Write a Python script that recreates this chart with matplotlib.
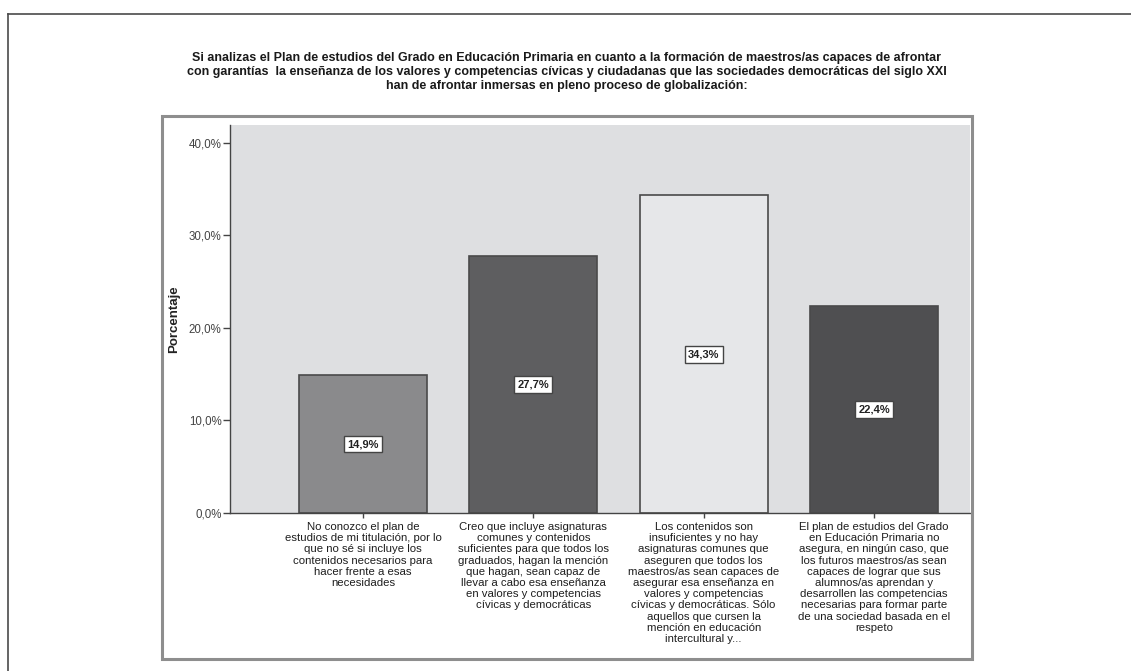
import matplotlib
matplotlib.use("Agg")
import matplotlib.pyplot as plt
from matplotlib.patches import Rectangle
from matplotlib.lines import Line2D

fonts = ['Liberation Sans Narrow', 'Liberation Sans', 'DejaVu Sans']

title = ("Si analizas el Plan de estudios del Grado en Educación Primaria en cuanto a la formación de maestros/as capaces de afrontar\n"
         "con garantías  la enseñanza de los valores y competencias cívicas y ciudadanas que las sociedades democráticas del siglo XXI\n"
         "han de afrontar inmersas en pleno proceso de globalización:")

categories = [
    "No conozco el plan de\nestudios de mi titulación, por lo\nque no sé si incluye los\ncontenidos necesarios para\nhacer frente a esas\nnecesidades",
    "Creo que incluye asignaturas\ncomunes y contenidos\nsuficientes para que todos los\ngraduados, hagan la mención\nque hagan, sean capaz de\nllevar a cabo esa enseñanza\nen valores y competencias\ncívicas y democráticas",
    "Los contenidos son\ninsuficientes y no hay\nasignaturas comunes que\naseguren que todos los\nmaestros/as sean capaces de\nasegurar esa enseñanza en\nvalores y competencias\ncívicas y democráticas. Sólo\naquellos que cursen la\nmención en educación\nintercultural y...",
    "El plan de estudios del Grado\nen Educación Primaria no\nasegura, en ningún caso, que\nlos futuros maestros/as sean\ncapaces de lograr que sus\nalumnos/as aprendan y\ndesarrollen las competencias\nnecesarias para formar parte\nde una sociedad basada en el\nrespeto",
]
percentages = [14.9, 27.7, 34.3, 22.4]
bar_colors = ['#8a8a8c', '#5e5e60', '#e6e7e9', '#4f4f51']
yticks = [0, 10, 20, 30, 40]

W, H = 1131, 671
fig = plt.figure(figsize=(W / 100, H / 100), dpi=100)
fig.patch.set_facecolor('white')

# page border (open on right and bottom)
fig.add_artist(Line2D([8 / W, 8 / W], [0, 1 - 14 / H], transform=fig.transFigure, color='#4a4a4a', lw=1.2))
fig.add_artist(Line2D([8 / W, 1], [1 - 14 / H, 1 - 14 / H], transform=fig.transFigure, color='#4a4a4a', lw=1.2))

# chart frame
fig.add_artist(Rectangle((162 / W, 1 - 659 / H), (972 - 162) / W, (659 - 116) / H,
                         transform=fig.transFigure, fill=False, edgecolor='#8e8e8e', lw=2.2))

ax = fig.add_axes([230 / W, 1 - 513 / H, (970 - 230) / W, (513 - 125) / H])
ax.set_facecolor('#dedfe1')

x = list(range(len(percentages)))
ax.bar(x, percentages, width=0.75, color=bar_colors, edgecolor='#4a4a4a', linewidth=1.2, zorder=2)

for xi, v in zip(x, percentages):
    ax.text(xi, v / 2, f"{v:.1f}%".replace('.', ','), ha='center', va='center',
            fontsize=8, fontweight='bold', family=fonts, color='#222222', zorder=3,
            bbox=dict(boxstyle='square,pad=0.3', facecolor='white', edgecolor='#444444', lw=1.0))

ax.set_xlim(-0.781, 3.564)
ax.set_ylim(0, 41.9)
ax.set_yticks(yticks)
ax.set_yticklabels([f"{t:.1f}%".replace('.', ',') for t in yticks], family=fonts, fontsize=8.3, color='#444444')
ax.set_xticks(x)
ax.set_xticklabels(categories, family=fonts, fontsize=8.2, color='#1e1e1e', linespacing=1.15, va='top')

for s in ['top', 'right']:
    ax.spines[s].set_visible(False)
for s in ['left', 'bottom']:
    ax.spines[s].set_color('#444444')
    ax.spines[s].set_linewidth(1.0)
ax.tick_params(axis='y', length=5, width=1, color='#444444', pad=1)
ax.tick_params(axis='x', length=3.5, width=1, color='#444444', pad=3)

ax.set_ylabel("Porcentaje", family=fonts, fontsize=9.5, fontweight='bold', color='#222222')
ax.yaxis.set_label_coords(-0.068, 0.5)

fig.text(567 / W, 1 - 72 / H, title, ha='center', va='center', family=fonts,
         fontsize=9, fontweight='bold', color='#1a1a1a', linespacing=1.2)

fig.savefig('out.png', dpi=100)
